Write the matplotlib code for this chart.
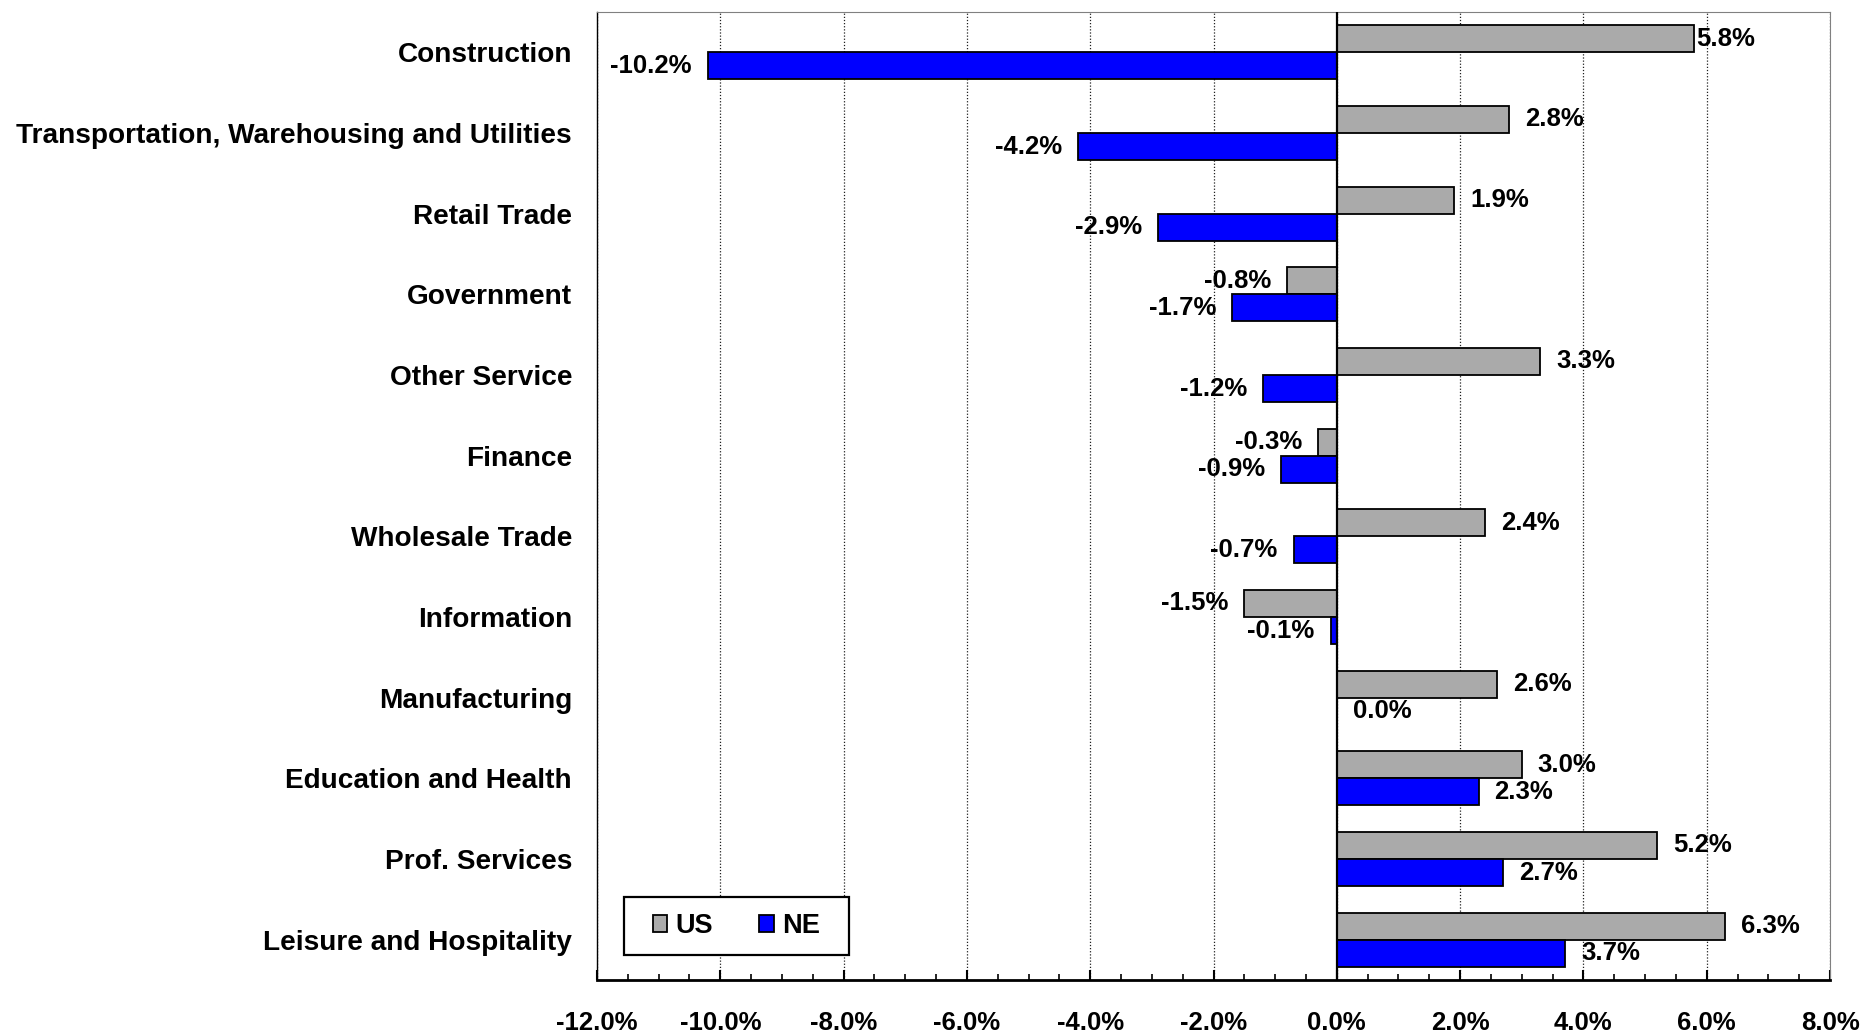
#
# employment change by industry, US vs NE
#

import numpy as np
from matplotlib import pyplot as plt
from matplotlib.patches import Rectangle

categories = ["Construction", "Transportation, Warehousing and Utilities",
              "Retail Trade", "Government", "Other Service", "Finance",
              "Wholesale Trade", "Information", "Manufacturing",
              "Education and Health", "Prof. Services", "Leisure and Hospitality"]
us_values = [5.8, 2.8, 1.9, -0.8, 3.3, -0.3, 2.4, -1.5, 2.6, 3.0, 5.2, 6.3]
ne_values = [-10.2, -4.2, -2.9, -1.7, -1.2, -0.9, -0.7, -0.1, 0.0, 2.3, 2.7, 3.7]
x_ticks = [-12, -10, -8, -6, -4, -2, 0, 2, 4, 6, 8]

plt.rcParams['font.family'] = ['Liberation Sans', 'DejaVu Sans']
plt.rcParams['font.weight'] = 'bold'
plt.rcParams['font.size'] = 18

GRAY = "#AAAAAA"
BLUE = "#0000FF"


def label_bars(ax, vals, ypos, nudge=None):
    nudge = nudge or {}
    for i, (v, y) in enumerate(zip(vals, ypos)):
        off = nudge.get(i, 11.5)
        if v < 0:
            ax.annotate("{:.1f}%".format(v), (v, y), xytext=(-off, 0),
                        textcoords="offset points", ha="right", va="center",
                        fontsize=18.5)
        else:
            ax.annotate("{:.1f}%".format(v), (v, y), xytext=(off, 0),
                        textcoords="offset points", ha="left", va="center",
                        fontsize=18.5)


def draw():
    fig = plt.figure(figsize=(18.64, 10.32), dpi=100)
    ax = fig.add_axes([597 / 1864, 1 - 980 / 1032, 1233 / 1864, 968 / 1032])

    y = np.arange(len(categories))
    h = 0.335

    ax.barh(y - h / 2, us_values, height=h, color=GRAY, edgecolor="black",
            linewidth=1.3, zorder=3, label="US")
    ax.barh(y + h / 2, ne_values, height=h, color=BLUE, edgecolor="black",
            linewidth=1.3, zorder=3, label="NE")

    label_bars(ax, us_values, y - h / 2, nudge={0: 1})
    label_bars(ax, ne_values, y + h / 2)

    ax.set_xlim(-12, 8)
    ax.set_ylim(len(categories) - 0.5, -0.5)
    ax.set_xticks(x_ticks)
    ax.set_xticklabels(["{:.1f}%".format(t) for t in x_ticks], fontsize=18.5)
    ax.set_xticks(np.arange(-12, 8.01, 0.5), minor=True)
    ax.set_yticks(y)
    ax.set_yticklabels(categories, fontsize=20.2)

    ax.tick_params(axis="x", which="major", direction="in", length=7,
                   width=1.5, pad=22, top=False)
    ax.tick_params(axis="x", which="minor", direction="in", length=4,
                   width=1.2, top=False)
    ax.tick_params(axis="y", length=0, pad=18)

    # dotted vertical grid
    ax.grid(axis="x", which="major", linestyle=(0, (1, 1.5)), color="#202020",
            linewidth=0.9, zorder=0)
    ax.axvline(0, color="black", linewidth=1.6, zorder=4)

    ax.spines["top"].set_color("#808080")
    ax.spines["right"].set_color("#808080")
    ax.spines["left"].set_linewidth(1.0)
    ax.spines["bottom"].set_linewidth(2.0)

    # legend box
    ax.add_patch(Rectangle((27 / 1233, 25 / 968), 225 / 1233, 58 / 968,
                           transform=ax.transAxes, facecolor="white",
                           edgecolor="black", linewidth=1.6, zorder=5))
    leg = ax.legend(loc="center", bbox_to_anchor=(0.113, 0.0558), ncol=2,
                    frameon=False, handlelength=0.55, handleheight=0.55,
                    handletextpad=0.3, columnspacing=1.7, fontsize=19.5)
    leg.set_zorder(6)

    fig.savefig("out.png", dpi=100)


# Entry point
if __name__ == "__main__":
    draw()
